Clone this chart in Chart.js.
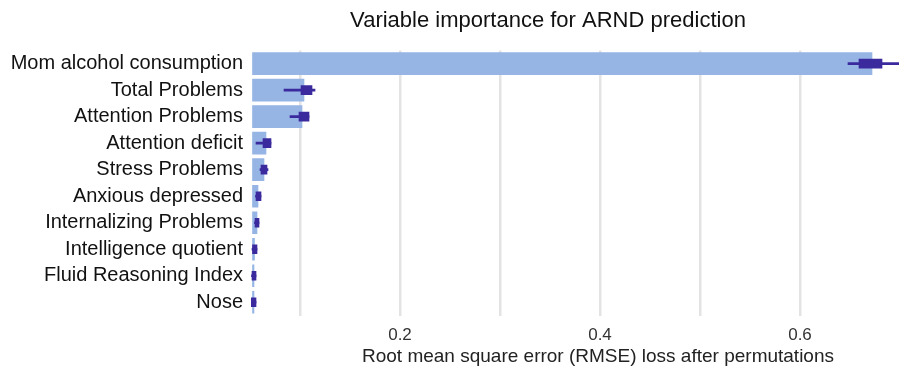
<!DOCTYPE html>
<html><head><meta charset="utf-8">
<script src="https://cdn.jsdelivr.net/npm/chart.js@4.4.1/dist/chart.umd.min.js"></script>
<style>html,body{margin:0;padding:0;background:#fff;overflow:hidden;width:899px;height:369px}</style>
</head><body>
<canvas id="c" width="1096" height="369"></canvas>
<script>
const categories = ["Mom alcohol consumption","Total Problems","Attention Problems","Attention deficit","Stress Problems","Anxious depressed","Internalizing Problems","Intelligence quotient","Fluid Reasoning Index","Nose"];
const baseLoss = 0.0525;
const meanLoss = [0.672,0.104,0.102,0.066,0.064,0.058,0.057,0.0545,0.054,0.054];
const q1 = [0.659,0.101,0.099,0.063,0.061,0.056,0.055,0.0525,0.052,0.051];
const q3 = [0.682,0.112,0.109,0.071,0.067,0.061,0.059,0.057,0.056,0.056];
const whiskLo = [0.648,0.084,0.090,0.056,0.060,0.0555,0.0545,0.052,0.0515,0.051];
const whiskHi = [0.715,0.115,0.109,0.071,0.068,0.061,0.059,0.057,0.056,0.056];
const tickValues = [0.1,0.2,0.3,0.4,0.5,0.6,0.7];
const tickLabels = {"0.2":"0.2","0.4":"0.4","0.6":"0.6"};

const pair = (a,b)=>a.map((v,i)=>[v,b[i]]);
new Chart(document.getElementById('c'),{
  type:'bar',
  data:{labels:categories,datasets:[
    {data:meanLoss.map(v=>[baseLoss,v]),backgroundColor:'#96b5e5',barThickness:22,grouped:false,order:3},
    {data:pair(whiskLo,whiskHi),backgroundColor:'#3a2a9e',barThickness:2,grouped:false,order:2},
    {data:pair(q1,q3),backgroundColor:'#3a2a9e',barThickness:9,grouped:false,order:1}
  ]},
  options:{
    indexAxis:'y',responsive:false,animation:false,
    layout:{padding:0},
    plugins:{legend:{display:false},tooltip:{enabled:false},
      title:{display:true,text:'Variable importance for ARND prediction',color:'#111',
        font:{family:'Liberation Sans',size:22,weight:'normal'},padding:{top:8,bottom:16}}},
    scales:{
      x:{type:'linear',min:0.051,max:0.745,
        afterBuildTicks:s=>{s.ticks=tickValues.map(v=>({value:v}));},
        afterFit:s=>{s.height=53.5;},
        grid:{color:'#e3e3e3',lineWidth:2.5,drawTicks:false},
        border:{display:false},
        ticks:{padding:10,color:'#333',font:{family:'Liberation Sans',size:17},
          callback:(v)=>tickLabels[(Math.round(v*10)/10).toFixed(1)]||''},
        title:{display:true,text:'Root mean square error (RMSE) loss after permutations',color:'#222',
          font:{family:'Liberation Sans',size:19},padding:{top:0,bottom:1}}
      },
      y:{type:'category',offset:true,
        afterFit:s=>{s.width=251;},
        grid:{display:false,drawTicks:false},border:{display:false},
        ticks:{padding:8,autoSkip:false,color:'#111',font:{family:'Liberation Sans',size:20}}
      },
      yr:{type:'linear',axis:'y',position:'right',
        afterFit:s=>{s.width=151;},
        grid:{display:false,drawTicks:false},border:{display:false},
        ticks:{display:false}
      }
    }
  }
});
</script>
</body></html>
